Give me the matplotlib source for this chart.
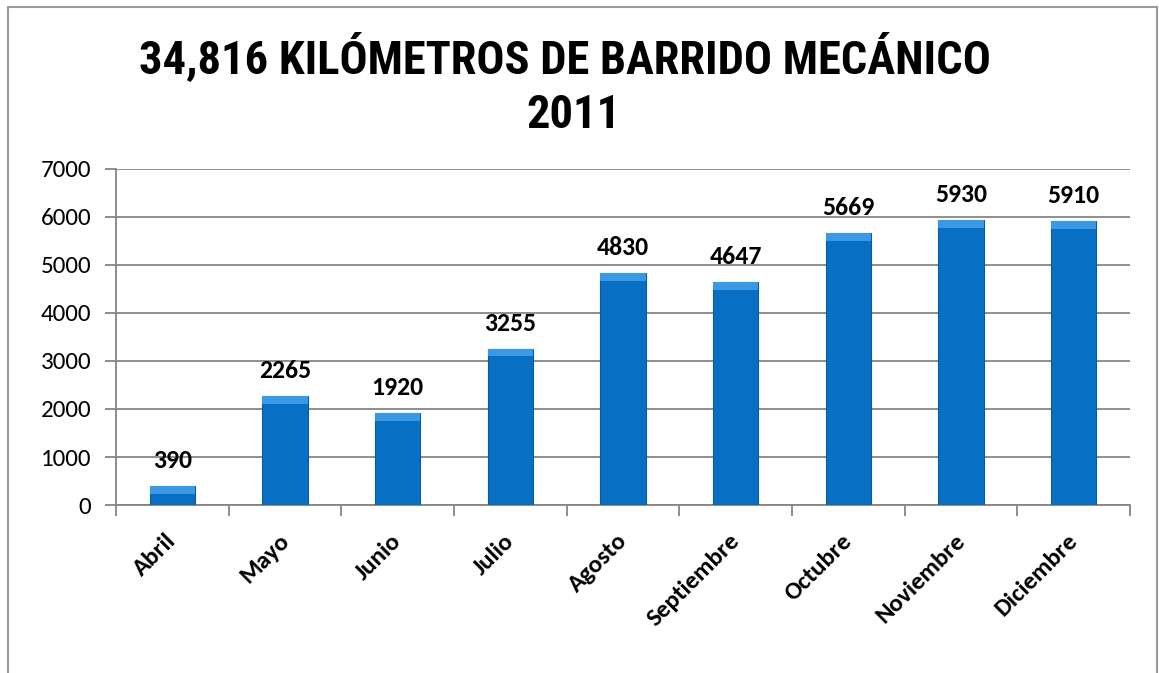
"""Kilometros de barrido mecanico por mes, 2011.
"""
import matplotlib
matplotlib.use("Agg")
import matplotlib.pyplot as plt
from matplotlib.patches import Rectangle

meses = ["Abril", "Mayo", "Junio", "Julio", "Agosto", "Septiembre",
         "Octubre", "Noviembre", "Diciembre"]
kilometros = [390, 2265, 1920, 3255, 4830, 4647, 5669, 5930, 5910]
y_ticks = [0, 1000, 2000, 3000, 4000, 5000, 6000, 7000]
titulo = "34,816 KILÓMETROS DE BARRIDO MECÁNICO"
subtitulo = "2011"

fig = plt.figure(figsize=(11.59, 6.73), dpi=100)
ax = fig.add_axes([0.1001, 0.2496, 0.8749, 0.4994])

# marco exterior del grafico
fig.patches.append(Rectangle((8 / 1159, -0.1), 1149 / 1159, 1.1 - 7 / 673,
                             transform=fig.transFigure, fill=False,
                             edgecolor="#9a9a9a", linewidth=1.5))

x = list(range(len(meses)))
ax.bar(x, kilometros, width=0.4, color="#0870c4", edgecolor="#0a5a9c",
       linewidth=0.8, zorder=3)
# brillo superior de cada barra
cap = [min(v, 160) for v in kilometros]
ax.bar(x, cap, width=0.4, bottom=[v - c for v, c in zip(kilometros, cap)],
       color="#3d98e3", edgecolor="none", zorder=4)

for xi, v in zip(x, kilometros):
    ax.annotate(str(v), (xi, v), xytext=(0, 13), textcoords="offset points",
                ha="center", va="baseline", fontsize=18.5, fontweight="bold",
                family="Carlito")

ax.set_xlim(-0.5, len(meses) - 0.5)
ax.set_ylim(0, 7000)
ax.set_yticks(y_ticks)
ax.set_yticklabels([str(t) for t in y_ticks], fontsize=18, family="Carlito")
ax.tick_params(axis="y", length=8, width=1.3, color="#868686", pad=10)

ax.set_xticks([i + 0.5 for i in range(-1, len(meses))], minor=False)
ax.set_xticklabels([])
ax.tick_params(axis="x", length=8, width=1.3, color="#868686")
for xi, m in zip(x, meses):
    ax.annotate(m, (xi, 0), xytext=(-5, -18), textcoords="offset points",
                ha="right", va="top", rotation=45, rotation_mode="anchor",
                fontsize=18, fontweight="bold", family="Carlito",
                annotation_clip=False)

ax.yaxis.grid(True, color="#868686", linewidth=1.3, zorder=0)
ax.set_axisbelow(True)
for s in ["top", "right"]:
    ax.spines[s].set_visible(False)
for s in ["left", "bottom"]:
    ax.spines[s].set_color("#868686")
    ax.spines[s].set_linewidth(1.3)

fig.text(565 / 1159, 1 - 73 / 673, titulo, ha="center", va="baseline",
         fontsize=33.5, fontweight="bold", family="Roboto Condensed")
fig.text(574 / 1159, 1 - 128 / 673, subtitulo, ha="center", va="baseline",
         fontsize=33.5, fontweight="bold", family="Roboto Condensed")

fig.savefig("out.png", dpi=100, facecolor="white")
